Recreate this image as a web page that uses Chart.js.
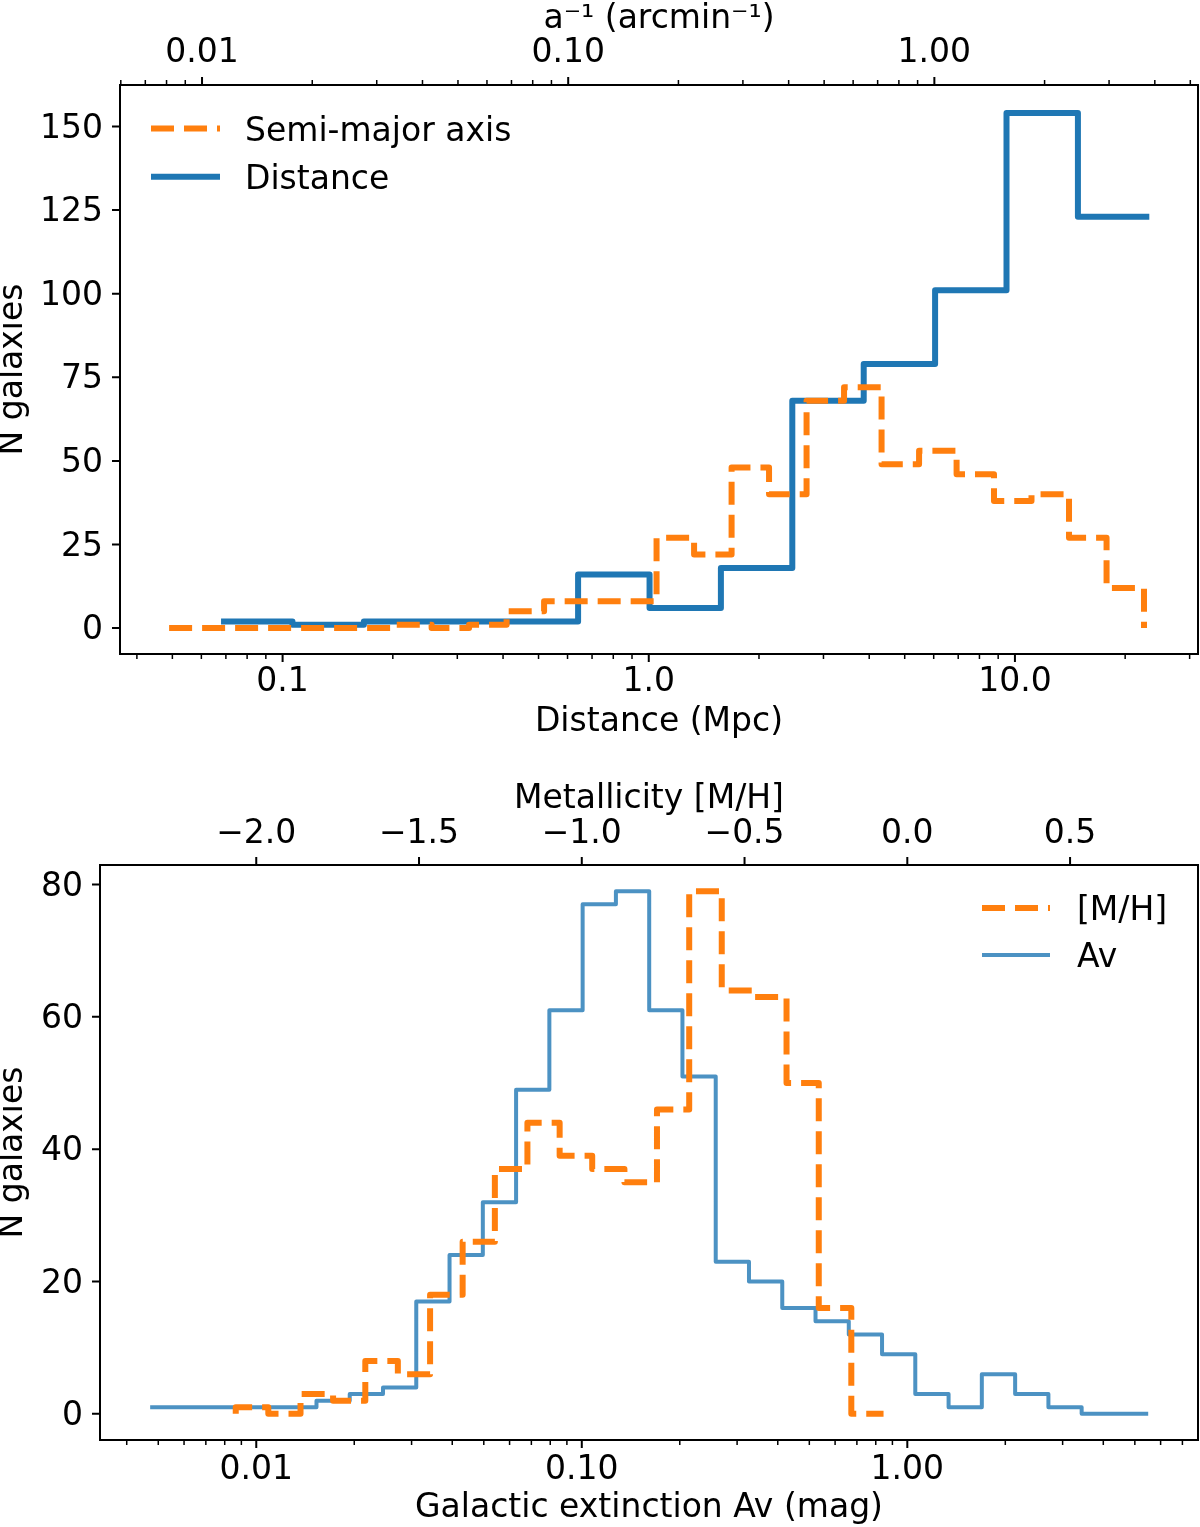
<!DOCTYPE html>
<html><head><meta charset="utf-8">
<script src="https://cdn.jsdelivr.net/npm/chart.js@4.4.1/dist/chart.umd.min.js"></script>
<style>
html,body{margin:0;padding:0;background:#fff;}
#wrap{position:relative;width:1200px;height:1527px;background:#fff;}
canvas{position:absolute;left:0;}
#c1{top:0;} #c2{top:760px;}
</style></head><body>
<div id="wrap"><canvas id="c1" width="1200" height="760"></canvas><canvas id="c2" width="1200" height="767"></canvas></div>
<script>
// ---------- DATA ----------
// Top panel: Distance histogram (Mpc), bin edges + counts
const distanceEdges = [0.0679, 0.1064, 0.1667, 0.2612, 0.4093, 0.6412, 1.005, 1.574, 2.466, 3.864, 6.053, 9.484, 14.86, 23.28];
const distanceCounts = [2, 1, 2, 2, 2, 16, 6, 18, 68, 79, 101, 154, 123];
// Top panel: Semi-major axis histogram in a^-1 (arcmin^-1)
const semiMajorEdges = [0.00813, 0.01029, 0.01303, 0.01650, 0.02089, 0.02644, 0.03347, 0.04236, 0.05362, 0.06788, 0.08593, 0.1088, 0.1377, 0.1743, 0.2207, 0.2794, 0.3536, 0.4477, 0.5667, 0.7175, 0.9083, 1.150, 1.455, 1.842, 2.332, 2.953, 3.737];
const semiMajorCounts = [0, 0, 0, 0, 0, 0, 1, 0, 1, 5, 8, 8, 8, 27, 22, 48, 40, 68, 72, 49, 53, 46, 38, 40, 27, 12];
// Bottom panel: Galactic extinction Av (mag)
const avEdges = [0.004721, 0.005973, 0.007556, 0.009563, 0.01210, 0.01531, 0.01937, 0.02451, 0.03101, 0.03924, 0.04966, 0.06283, 0.07950, 0.1006, 0.1273, 0.1611, 0.2038, 0.2579, 0.3263, 0.4129, 0.5224, 0.6610, 0.8363, 1.058, 1.339, 1.694, 2.144, 2.713, 3.432, 4.343, 5.495];
const avCounts = [1, 1, 1, 1, 1, 2, 3, 4, 17, 24, 32, 49, 61, 77, 79, 61, 51, 23, 20, 16, 14, 12, 9, 3, 1, 6, 3, 1, 0, 0];
// Bottom panel: Metallicity [M/H]
const metalEdges = [-2.063, -1.963, -1.864, -1.764, -1.665, -1.565, -1.466, -1.366, -1.267, -1.167, -1.068, -0.968, -0.869, -0.769, -0.670, -0.570, -0.471, -0.371, -0.272, -0.172, -0.073];
const metalCounts = [1, 0, 3, 2, 8, 6, 18, 26, 37, 44, 39, 37, 35, 46, 79, 64, 63, 50, 16, 0];

// ---------- TICKS ----------
const topYTicks = [0, 25, 50, 75, 100, 125, 150];
const bottomYTicks = [0, 20, 40, 60, 80];
const distMajorTicks = [0.1, 1, 10];
const distMajorLabels = ['0.1', '1.0', '10.0'];
const distMinorTicks = [0.04, 0.05, 0.06, 0.07, 0.08, 0.09, 0.2, 0.3, 0.4, 0.5, 0.6, 0.7, 0.8, 0.9, 2, 3, 4, 5, 6, 7, 8, 9, 20, 30];
const invAMajorTicks = [0.01, 0.1, 1];
const invAMajorLabels = ['0.01', '0.10', '1.00'];
const invAMinorTicks = [0.006, 0.007, 0.008, 0.009, 0.02, 0.03, 0.04, 0.05, 0.06, 0.07, 0.08, 0.09, 0.2, 0.3, 0.4, 0.5, 0.6, 0.7, 0.8, 0.9, 2, 3, 4, 5];
const avMajorTicks = [0.01, 0.1, 1];
const avMajorLabels = ['0.01', '0.10', '1.00'];
const avMinorTicks = [0.004, 0.005, 0.006, 0.007, 0.008, 0.009, 0.02, 0.03, 0.04, 0.05, 0.06, 0.07, 0.08, 0.09, 0.2, 0.3, 0.4, 0.5, 0.6, 0.7, 0.8, 0.9, 2, 3, 4, 5, 6, 7];
const metalMajorTicks = [-2, -1.5, -1, -0.5, 0, 0.5];
const metalMajorLabels = ['\u22122.0', '\u22121.5', '\u22121.0', '\u22120.5', '0.0', '0.5'];

// axis ranges
const distRange = [0.03597, 31.62];
const invARange = [0.005970, 5.248];
const topYRange = [-7.75, 162.4];
const avRange = [0.003311, 7.816];
const metalRange = [-2.480, 0.893];
const bottomYRange = [-3.95, 82.95];

// ---------- HELPERS ----------
const FONT = {family: "'DejaVu Sans', sans-serif", size: 33, lineHeight: 1.2};
const ORANGE = '#ff7f0e', BLUE = '#1f77b4';

// outline of a step histogram; closed=true drops to zero at both ends
function stepPoints(edges, counts, closed) {
  const pts = [];
  if (closed) pts.push({x: edges[0], y: 0});
  for (let i = 0; i < counts.length; i++) pts.push({x: edges[i], y: counts[i]});
  pts.push({x: edges[edges.length - 1], y: closed ? 0 : counts[counts.length - 1]});
  return pts;
}
function labelFor(majors, labels) {
  return (v) => {
    const i = majors.findIndex(m => Math.abs(m - v) <= Math.abs(m) * 1e-6 + 1e-9);
    return i >= 0 ? labels[i] : '';
  };
}
function xAxis(type, pos, range, majors, labels, minors, labelPad, title, titlePad, height) {
  const all = majors.concat(minors).sort((a, b) => a - b);
  return {
    type, position: pos, axis: 'x', min: range[0], max: range[1],
    grid: {display: false, drawTicks: false}, border: {display: false},
    ticks: {autoSkip: false, maxRotation: 0, minRotation: 0, padding: labelPad, color: '#000', font: FONT,
      callback: labelFor(majors, labels)},
    afterBuildTicks: s => { s.ticks = all.map(v => ({value: v})); },
    afterFit: s => { s.height = height; s.paddingLeft = 0; s.paddingRight = 0; },
    title: {display: true, text: title, color: '#000', font: FONT, padding: titlePad}
  };
}
function yAxis(range, ticks, width, labelPad, titlePad) {
  return {
    type: 'linear', position: 'left', min: range[0], max: range[1],
    grid: {display: false, drawTicks: false}, border: {display: false},
    ticks: {autoSkip: false, padding: labelPad, labelOffset: 2.5, color: '#000', font: FONT, callback: v => String(v)},
    afterBuildTicks: s => { s.ticks = ticks.map(v => ({value: v})); },
    afterFit: s => { s.width = width; s.paddingTop = 0; s.paddingBottom = 0; },
    title: {display: true, text: 'N galaxies', color: '#000', font: FONT, padding: titlePad}
  };
}
function framePlugin(spec) {
  return {id: 'frameTicks', afterDraw(chart) {
    const ctx = chart.ctx, a = chart.chartArea;
    ctx.save();
    ctx.strokeStyle = '#000';
    ctx.setLineDash([]);
    for (const id in spec) {
      const s = chart.scales[id], sp = spec[id];
      const draw = (vals, len, lw) => {
        ctx.lineWidth = lw;
        ctx.beginPath();
        for (const v of vals) {
          const p = s.getPixelForValue(v);
          if (sp.side === 'bottom') { ctx.moveTo(p, a.bottom); ctx.lineTo(p, a.bottom + len); }
          else if (sp.side === 'top') { ctx.moveTo(p, a.top); ctx.lineTo(p, a.top - len); }
          else { ctx.moveTo(a.left, p); ctx.lineTo(a.left - len, p); }
        }
        ctx.stroke();
      };
      draw(sp.majors, 8, 2);
      draw(sp.minors || [], 5, 1.5);
    }
    ctx.lineWidth = 2;
    ctx.strokeRect(a.left, a.top, a.right - a.left, a.bottom - a.top);
    ctx.restore();
  }};
}
function legendPlugin(order, x0, x1, xText, ys) {
  return {id: 'customLegend', afterDraw(chart) {
    const ctx = chart.ctx;
    ctx.save();
    order.forEach((di, i) => {
      const ds = chart.data.datasets[di];
      ctx.beginPath();
      ctx.strokeStyle = ds.borderColor;
      ctx.lineWidth = ds.borderWidth;
      ctx.setLineDash(ds.borderDash || []);
      ctx.lineCap = 'butt';
      ctx.moveTo(x0, ys[i]); ctx.lineTo(x1, ys[i]);
      ctx.stroke();
      ctx.setLineDash([]);
      ctx.fillStyle = '#000';
      ctx.font = "33px 'DejaVu Sans', sans-serif";
      ctx.textBaseline = 'alphabetic';
      ctx.textAlign = 'left';
      ctx.fillText(ds.label, xText, ys[i] + 12);
    });
    ctx.restore();
  }};
}
const common = {responsive: false, animation: false, devicePixelRatio: 1, events: [],
  plugins: {legend: {display: false}, tooltip: {enabled: false}}};

// ---------- TOP CHART ----------
new Chart(document.getElementById('c1'), {
  type: 'line',
  data: {datasets: [
    {label: 'Semi-major axis', data: stepPoints(semiMajorEdges, semiMajorCounts, true), xAxisID: 'x2', yAxisID: 'y',
     borderColor: ORANGE, borderWidth: 6, borderDash: [23, 10], stepped: 'before', pointRadius: 0, tension: 0,
     borderJoinStyle: 'round', borderCapStyle: 'butt', fill: false},
    {label: 'Distance', data: stepPoints(distanceEdges, distanceCounts, false), xAxisID: 'x', yAxisID: 'y',
     borderColor: BLUE, borderWidth: 6, stepped: 'before', pointRadius: 0, tension: 0,
     borderJoinStyle: 'round', borderCapStyle: 'butt', fill: false}
  ]},
  options: Object.assign({}, common, {
    layout: {padding: {left: 0, right: 2, top: 0, bottom: 0}},
    scales: {
      x: xAxis('logarithmic', 'bottom', distRange, distMajorTicks, distMajorLabels, distMinorTicks, 8.7, 'Distance (Mpc)', {bottom: 17.7}, 106),
      x2: xAxis('logarithmic', 'top', invARange, invAMajorTicks, invAMajorLabels, invAMinorTicks, 11.7, 'a\u207B\u00B9 (arcmin\u207B\u00B9)', {top: -0.3}, 85),
      y: yAxis(topYRange, topYTicks, 120, 17, {top: -6})
    }
  }),
  plugins: [
    framePlugin({x: {side: 'bottom', majors: distMajorTicks, minors: distMinorTicks},
                 x2: {side: 'top', majors: invAMajorTicks, minors: invAMinorTicks},
                 y: {side: 'left', majors: topYTicks}}),
    legendPlugin([0, 1], 151, 220, 245, [128.5, 176.7])
  ]
});

// ---------- BOTTOM CHART ----------
new Chart(document.getElementById('c2'), {
  type: 'line',
  data: {datasets: [
    {label: '[M/H]', data: stepPoints(metalEdges, metalCounts, true), xAxisID: 'x2', yAxisID: 'y',
     borderColor: ORANGE, borderWidth: 6, borderDash: [23, 10], stepped: 'before', pointRadius: 0, tension: 0,
     borderJoinStyle: 'round', borderCapStyle: 'butt', fill: false},
    {label: 'Av', data: stepPoints(avEdges, avCounts, false), xAxisID: 'x', yAxisID: 'y',
     borderColor: 'rgba(31,119,180,0.8)', borderWidth: 4, stepped: 'before', pointRadius: 0, tension: 0,
     borderJoinStyle: 'round', borderCapStyle: 'butt', fill: false}
  ]},
  options: Object.assign({}, common, {
    layout: {padding: {left: 0, right: 2, top: 0, bottom: 0}},
    scales: {
      x: xAxis('logarithmic', 'bottom', avRange, avMajorTicks, avMajorLabels, avMinorTicks, 10.7, 'Galactic extinction Av (mag)', {bottom: -1.3}, 87),
      x2: xAxis('linear', 'top', metalRange, metalMajorTicks, metalMajorLabels, [], 10.7, 'Metallicity [M/H]', {top: 20}, 105),
      y: yAxis(bottomYRange, bottomYTicks, 100, 17, {top: -6})
    }
  }),
  plugins: [
    framePlugin({x: {side: 'bottom', majors: avMajorTicks, minors: avMinorTicks},
                 x2: {side: 'top', majors: metalMajorTicks},
                 y: {side: 'left', majors: bottomYTicks}}),
    legendPlugin([0, 1], 982, 1050, 1077, [148, 195])
  ]
});
</script>
</body></html>
